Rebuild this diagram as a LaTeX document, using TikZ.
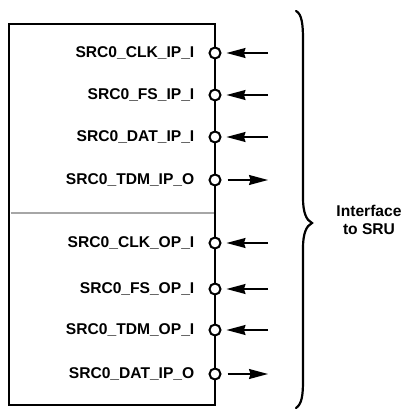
\documentclass[tikz,border=0pt]{standalone}
\usepackage{fontspec}
\setmainfont{Liberation Sans}
\usetikzlibrary{arrows.meta,positioning}

\begin{document}
\begin{tikzpicture}[x=1pt,y=-1pt, >={Stealth[length=19pt,width=10pt,inset=1.5pt]},
  blk/.style={draw,line width=2.6pt},
  pinc/.style={draw,circle,line width=2pt,fill=white,minimum size=11pt,inner sep=0pt},
  sig/.style={font=\fontsize{15.6}{18}\selectfont\bfseries,inner sep=0pt},
  wire/.style={line width=1.3pt},
  inw/.style={wire,->,shorten >=5pt},
  outw/.style={wire,->,shorten <=6pt},
  every node/.style={text=black}]
\useasboundingbox (0,0) rectangle (404,411);
% block and the divider
\draw[blk] (9,24) rectangle (215,405);
\draw[gray!70,line width=1.1pt] (10.5,213) -- (213.5,213);
% pins on the block edge
\node[pinc] (p1) at (215,53) {};
\node[pinc] (p2) at (215,95) {};
\node[pinc] (p3) at (215,137) {};
\node[pinc] (p4) at (215,180) {};
\node[pinc] (p5) at (215,243) {};
\node[pinc] (p6) at (215,289) {};
\node[pinc] (p7) at (215,330) {};
\node[pinc] (p8) at (215,374) {};
\node[sig,left=14pt of p1] (l1) {SRC0\_CLK\_IP\_I};
\node[sig,left=14pt of p2] (l2) {SRC0\_FS\_IP\_I};
\node[sig,left=14pt of p3] (l3) {SRC0\_DAT\_IP\_I};
\node[sig,left=14pt of p4] (l4) {SRC0\_TDM\_IP\_O};
\node[sig,left=14pt of p5] (l5) {SRC0\_CLK\_OP\_I};
\node[sig,left=14pt of p6] (l6) {SRC0\_FS\_OP\_I};
\node[sig,left=14pt of p7] (l7) {SRC0\_TDM\_OP\_I};
\node[sig,left=14pt of p8] (l8) {SRC0\_DAT\_IP\_O};
% free ends of the wires
\coordinate (e1) at (268,53);
\coordinate (e2) at (268,95);
\coordinate (e3) at (268,137);
\coordinate (e4) at (268,180);
\coordinate (e5) at (268,243);
\coordinate (e6) at (268,289);
\coordinate (e7) at (268,330);
\coordinate (e8) at (268,374);
\draw[inw] (e1) -- (p1);
\draw[inw] (e2) -- (p2);
\draw[inw] (e3) -- (p3);
\draw[outw] (p4) -- (e4);
\draw[inw] (e5) -- (p5);
\draw[inw] (e6) -- (p6);
\draw[inw] (e7) -- (p7);
\draw[outw] (p8) -- (e8);
% brace
\draw[line width=2.2pt,line cap=round] (296,11) .. controls (302,14) and (303,25) .. (303,40)
  -- (303,198) .. controls (303,212) and (306,220) .. (312,223)
  .. controls (306,226) and (303,234) .. (303,248)
  -- (303,380) .. controls (303,395) and (302,404) .. (296,408);
\node[font=\fontsize{15.6}{18}\selectfont\bfseries,align=center,inner sep=0pt] (sru) at (369,220) {Interface\\to SRU};
\end{tikzpicture}
\end{document}
